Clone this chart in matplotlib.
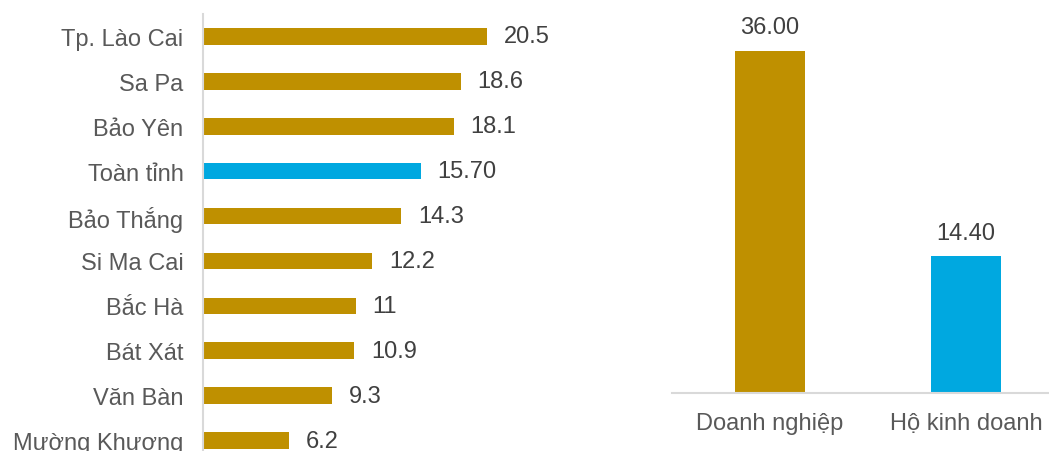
import matplotlib
matplotlib.use("Agg")
import matplotlib.pyplot as plt

plt.rcParams['font.family'] = ['Liberation Sans', 'DejaVu Sans']

# District values (top to bottom)
districts = ["Tp. Lào Cai", "Sa Pa", "Bảo Yên", "Toàn tỉnh", "Bảo Thắng",
             "Si Ma Cai", "Bắc Hà", "Bát Xát", "Văn Bàn", "Mường Khương"]
district_values = [20.5, 18.6, 18.1, 15.70, 14.3, 12.2, 11, 10.9, 9.3, 6.2]
district_labels = ["20.5", "18.6", "18.1", "15.70", "14.3", "12.2", "11", "10.9", "9.3", "6.2"]
highlight = "Toàn tỉnh"

# Business type values
types = ["Doanh nghiệp", "Hộ kinh doanh"]
type_values = [36.00, 14.40]
type_labels = ["36.00", "14.40"]

GOLD = "#BF9000"
BLUE = "#00A8E0"
TICK_COLOR = "#595959"
VALUE_COLOR = "#404040"
SPINE_COLOR = "#D9D9D9"
FS = 17

W, H = 1049, 452
fig = plt.figure(figsize=(W / 100, H / 100), dpi=100)

# Left: horizontal bars
ax1 = fig.add_axes([203 / W, (H - 464) / H, 344 / W, 449 / H])
ypos = list(range(len(districts)))
colors = [BLUE if d == highlight else GOLD for d in districts]
ax1.barh(ypos, district_values, height=0.37, color=colors)
ax1.set_ylim(len(districts) - 0.5, -0.5)
ax1.set_xlim(0, 24.8)
ax1.set_yticks(ypos)
ax1.set_yticklabels(districts, fontsize=FS, color=TICK_COLOR)
ax1.tick_params(axis='y', length=0, pad=14)
ax1.set_xticks([])
for s in ["top", "right", "bottom"]:
    ax1.spines[s].set_visible(False)
ax1.spines["left"].set_color(SPINE_COLOR)
ax1.spines["left"].set_linewidth(1.5)
for y, v, lab in zip(ypos, district_values, district_labels):
    ax1.annotate(lab, xy=(v, y), xytext=(12, 0), textcoords="offset points",
                 ha="left", va="center", fontsize=FS, color=VALUE_COLOR)

# Right: vertical bars
ax2 = fig.add_axes([672 / W, (H - 394) / H, 392 / W, 380 / H])
xpos = list(range(len(types)))
ax2.bar(xpos, type_values, width=0.357, color=[GOLD, BLUE])
ax2.set_xlim(-0.5, 1.5)
ax2.set_ylim(0, 40)
ax2.set_xticks(xpos)
ax2.set_xticklabels(types, fontsize=FS, color=TICK_COLOR)
ax2.tick_params(axis='x', length=0, pad=14)
ax2.set_yticks([])
for s in ["top", "right", "left"]:
    ax2.spines[s].set_visible(False)
ax2.spines["bottom"].set_color(SPINE_COLOR)
ax2.spines["bottom"].set_linewidth(1.5)
for x, v, lab in zip(xpos, type_values, type_labels):
    ax2.annotate(lab, xy=(x, v), xytext=(0, 9), textcoords="offset points",
                 ha="center", va="bottom", fontsize=FS, color=VALUE_COLOR)

fig.savefig("out.png", dpi=100)
